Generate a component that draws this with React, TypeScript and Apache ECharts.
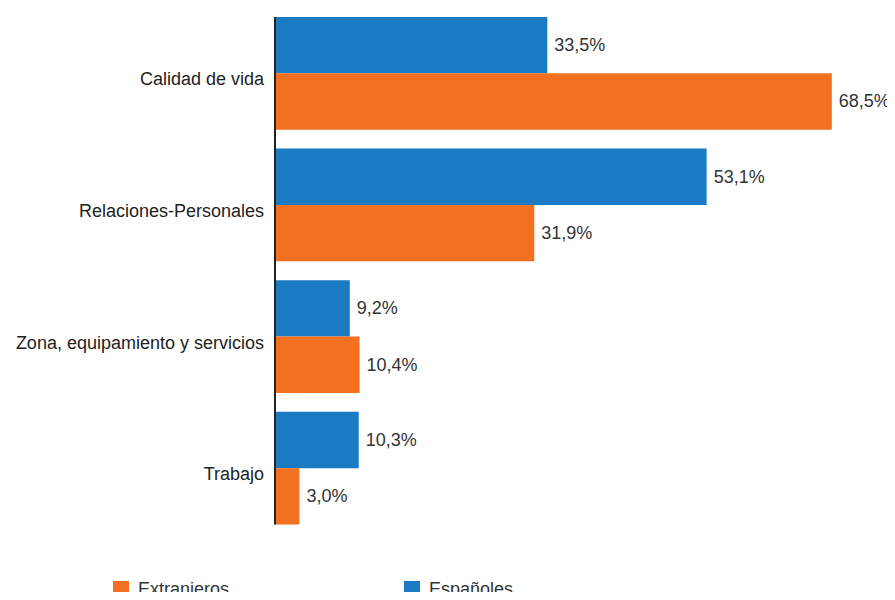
import React, { useEffect, useRef } from "react";
import * as echarts from "echarts";

const categories = [
  "Calidad de vida",
  "Relaciones-Personales",
  "Zona, equipamiento y servicios",
  "Trabajo",
];
const espanoles = [33.5, 53.1, 9.2, 10.3];
const extranjeros = [68.5, 31.9, 10.4, 3.0];
const NAME_EXT = "Extranjeros";
const NAME_ESP = "Españoles";

const BLUE = "#1b7bc2";
const ORANGE = "#f37021";
const FONT = "Liberation Sans, Arial, sans-serif";

const GRID_LEFT = 275;
const GRID_TOP = 7.5;
const GRID_HEIGHT = 526.5;
const GRID_RIGHT = 51;
const CAT_GAP = 0.144;

export default function App() {
  const ref = useRef<HTMLDivElement>(null);
  useEffect(() => {
    if (!ref.current) return;
    const chart = echarts.init(ref.current, null, { renderer: "svg" });
    const band = GRID_HEIGHT / categories.length;
    const halfGap = (band * CAT_GAP) / 2;
    const fmt = (p: any) =>
      Number(p.value).toFixed(1).replace(".", ",") + "%";
    const legendBase = {
      top: 580,
      padding: 0,
      itemWidth: 16,
      itemHeight: 16,
      icon: "rect",
      selectedMode: false,
      textStyle: {
        fontSize: 18,
        color: "#333",
        fontFamily: FONT,
        padding: [0, 0, 0, 4],
      },
    };
    const label = {
      show: true,
      position: "right",
      distance: 7,
      formatter: fmt,
      fontSize: 18,
      color: "#333",
      fontFamily: FONT,
    };
    chart.setOption({
      animation: false,
      textStyle: { fontFamily: FONT },
      grid: {
        left: GRID_LEFT,
        top: GRID_TOP,
        height: GRID_HEIGHT,
        right: GRID_RIGHT,
        containLabel: false,
      },
      legend: [
        { ...legendBase, data: [NAME_EXT], left: 113 },
        { ...legendBase, data: [NAME_ESP], left: 404 },
      ],
      xAxis: {
        type: "value",
        min: 0,
        max: 70,
        show: false,
      },
      yAxis: {
        type: "category",
        data: categories,
        inverse: true,
        axisLine: { show: false },
        axisTick: { show: false },
        axisLabel: {
          fontSize: 18,
          color: "#222",
          margin: 11,
          fontFamily: FONT,
          verticalAlign: "top",
          lineHeight: 12,
        },
      },
      graphic: [
        {
          type: "line",
          shape: {
            x1: GRID_LEFT,
            y1: GRID_TOP + halfGap,
            x2: GRID_LEFT,
            y2: GRID_TOP + GRID_HEIGHT - halfGap,
          },
          style: { stroke: "#222", lineWidth: 2 },
          z: 100,
        },
      ],
      series: [
        {
          name: NAME_ESP,
          type: "bar",
          data: espanoles,
          itemStyle: { color: BLUE },
          barGap: "0%",
          barCategoryGap: CAT_GAP * 100 + "%",
          label,
        },
        {
          name: NAME_EXT,
          type: "bar",
          data: extranjeros,
          itemStyle: { color: ORANGE },
          barGap: "0%",
          barCategoryGap: CAT_GAP * 100 + "%",
          label,
        },
      ],
    });
    return () => chart.dispose();
  }, []);
  return <div ref={ref} style={{ width: 895, height: 600, margin: -8 }} />;
}
